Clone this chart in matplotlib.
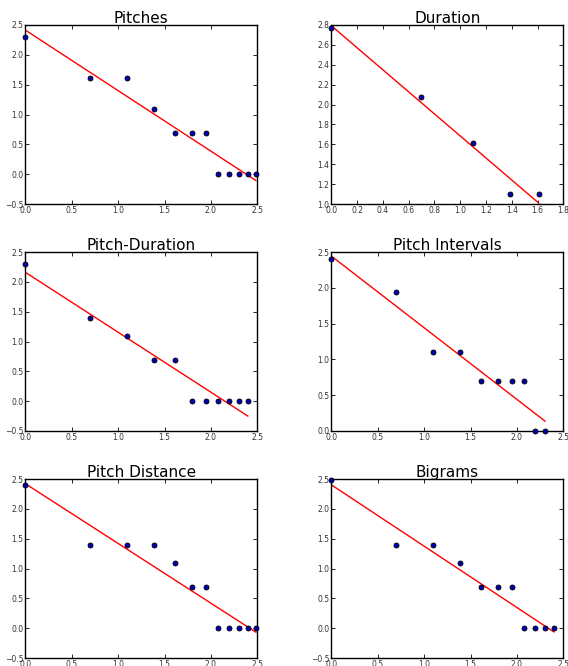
import matplotlib
matplotlib.use("Agg")
import matplotlib.pyplot as plt
import numpy as np

# log(rank) values
ranks_ln = [0.0, 0.693, 1.099, 1.386, 1.609, 1.792, 1.946, 2.079, 2.197, 2.303, 2.398, 2.485]

titles = ["Pitches", "Duration", "Pitch-Duration", "Pitch Intervals", "Pitch Distance", "Bigrams"]

pitches_y = [2.303, 1.609, 1.609, 1.099, 0.693, 0.693, 0.693, 0.0, 0.0, 0.0, 0.0, 0.0]
duration_y = [2.773, 2.079, 1.609, 1.099, 1.099]
pitch_duration_y = [2.303, 1.386, 1.099, 0.693, 0.693, 0.0, 0.0, 0.0, 0.0, 0.0, 0.0]
pitch_intervals_y = [2.398, 1.946, 1.099, 1.099, 0.693, 0.693, 0.693, 0.693, 0.0, 0.0]
pitch_distance_y = [2.398, 1.386, 1.386, 1.386, 1.099, 0.693, 0.693, 0.0, 0.0, 0.0, 0.0, 0.0]
bigrams_y = [2.485, 1.386, 1.386, 1.099, 0.693, 0.693, 0.693, 0.0, 0.0, 0.0, 0.0]

series = [pitches_y, duration_y, pitch_duration_y, pitch_intervals_y, pitch_distance_y, bigrams_y]

xlims = [(0, 2.5), (0, 1.8), (0, 2.5), (0, 2.5), (0, 2.5), (0, 2.5)]
ylims = [(-0.5, 2.5), (1.0, 2.8), (-0.5, 2.5), (0.0, 2.5), (-0.5, 2.5), (-0.5, 2.5)]
xticks = [np.arange(0, 2.51, 0.5), np.arange(0, 1.81, 0.2)] + [np.arange(0, 2.51, 0.5)] * 4
yticks = [np.arange(-0.5, 2.51, 0.5), np.arange(1.0, 2.81, 0.2), np.arange(-0.5, 2.51, 0.5),
          np.arange(0.0, 2.51, 0.5), np.arange(-0.5, 2.51, 0.5), np.arange(-0.5, 2.51, 0.5)]

W, H = 568, 666
fig = plt.figure(figsize=(W / 100, H / 100), dpi=100)
fig.patch.set_facecolor("white")

col_left = [25.3, 331.3]
ax_w = 232.0
row_top = [25.0, 252.0, 479.0]
ax_h = 179.0

for i, (title, y) in enumerate(zip(titles, series)):
    r, c = divmod(i, 2)
    left = col_left[c] / W
    bottom = 1 - (row_top[r] + ax_h) / H
    ax = fig.add_axes([left, bottom, ax_w / W, ax_h / H])
    x = np.array(ranks_ln[:len(y)])
    yv = np.array(y)
    slope, intercept = np.polyfit(x, yv, 1)
    ax.plot(x, slope * x + intercept, color="red", lw=1.0, zorder=2)
    ax.plot(x, yv, "o", color="#0000b4", mec="black", mew=0.6, ms=3.6, zorder=3, clip_on=False)
    ax.set_xlim(*xlims[i])
    ax.set_ylim(*ylims[i])
    ax.set_xticks(xticks[i])
    ax.set_yticks(yticks[i])
    ax.xaxis.set_major_formatter(matplotlib.ticker.FormatStrFormatter("%.1f"))
    ax.yaxis.set_major_formatter(matplotlib.ticker.FuncFormatter(lambda v, p: ("%.1f" % v).replace("-", "\u2212")))
    ax.tick_params(direction="in", length=3, width=0.6, labelsize=5.5, pad=1.5,
                   top=True, right=True, colors="black", labelcolor="#333333")
    for sp in ax.spines.values():
        sp.set_linewidth(1.0)
    ax.set_title(title, fontsize=11, pad=1.5)

fig.savefig("out.png", dpi=100, facecolor="white")
